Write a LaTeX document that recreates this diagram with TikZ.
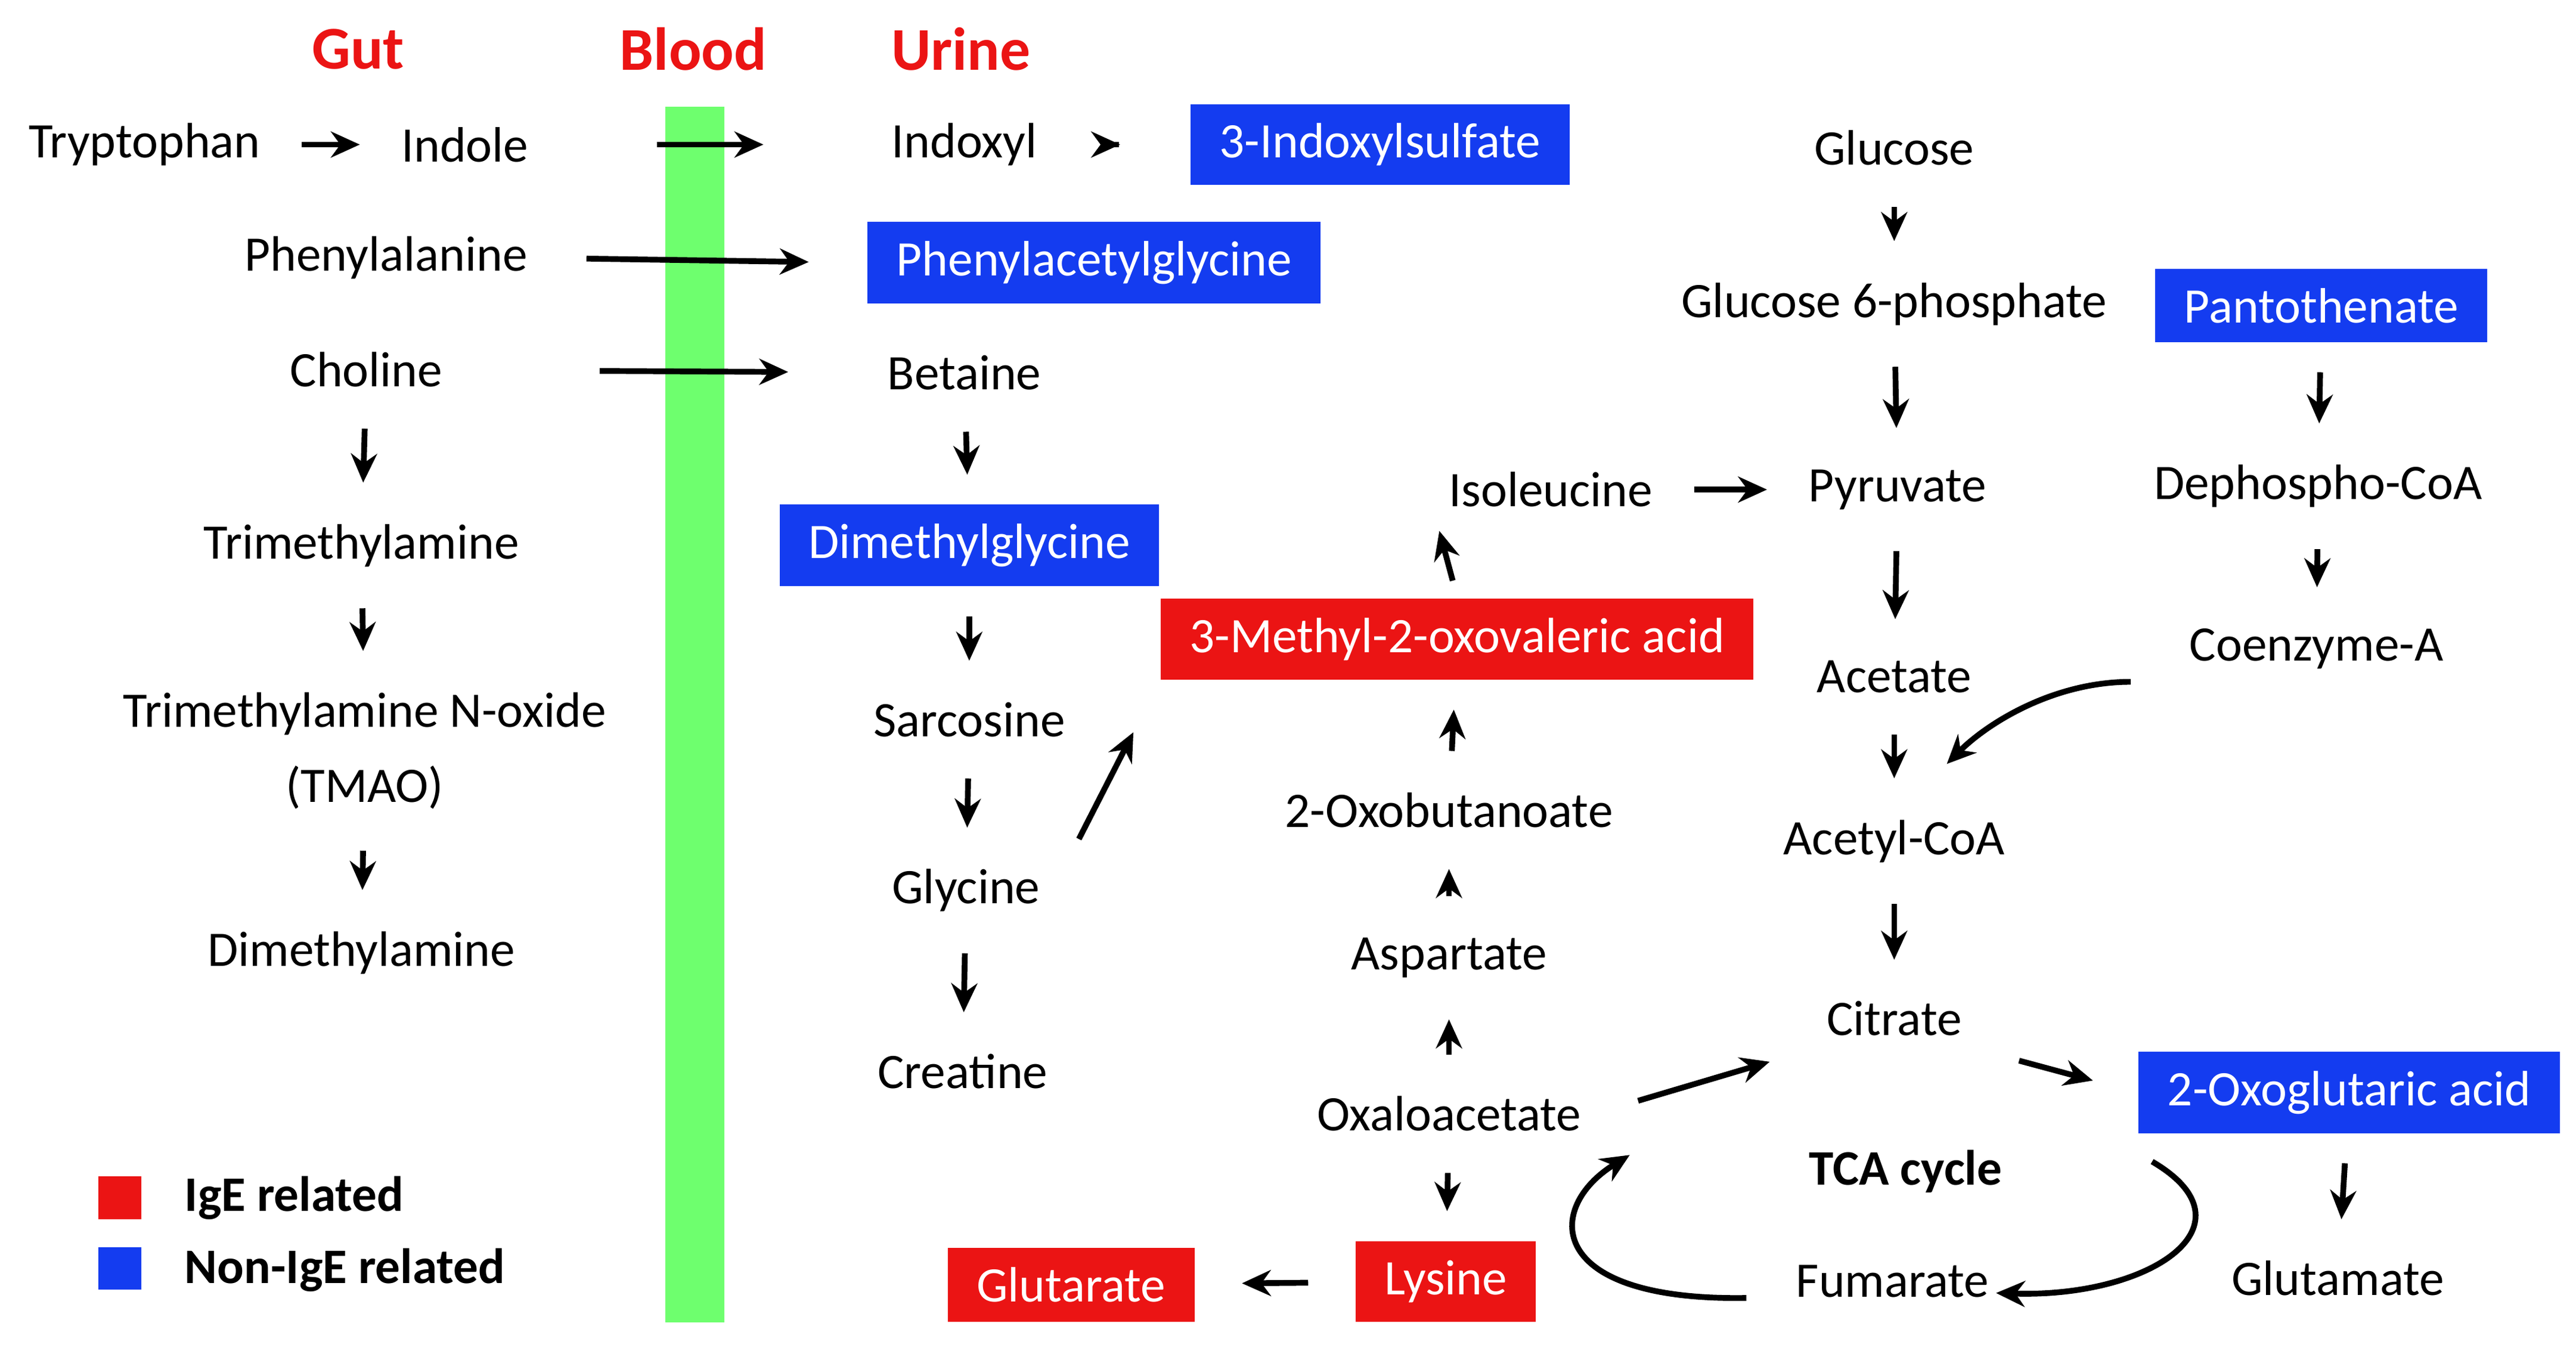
\documentclass[tikz,border=0pt]{standalone}
\usepackage{fontspec}
\setmainfont{Carlito}
\usetikzlibrary{arrows.meta}
\definecolor{bx}{RGB}{20,60,240}
\definecolor{rx}{RGB}{235,20,20}
\definecolor{gb}{RGB}{110,255,110}
\begin{document}
\begin{tikzpicture}[x=0.01cm,y=-0.01cm,
  every node/.style={font=\fontsize{8.6}{10}\selectfont},
  t/.style={inner sep=2pt},
  bb/.style={fill=bx,text=white,minimum height=0.42cm,inner xsep=5pt},
  rb/.style={fill=rx,text=white,minimum height=0.42cm,inner xsep=5pt},
  hd/.style={text=rx,font=\fontsize{10.5}{12}\selectfont\bfseries},
  ar/.style={-{Stealth[length=5pt,width=4.5pt]},line width=1pt,shorten >=5pt,shorten <=5pt}]
\useasboundingbox (0,0) rectangle (1568,822);
\fill[gb] (405,65) rectangle (441,805);
\node[hd] (gut) at (218,30) {Gut};
\node[hd] (blood) at (422,30) {Blood};
\node[hd] (urine) at (585,30) {Urine};
\node[t] (trp) at (88,88) {Tryptophan};
\node[t] (ind) at (283,88) {Indole};
\node[t] (inx) at (587,88) {Indoxyl};
\node[bb] (ixs) at (840,88) {3-Indoxylsulfate};
\node[t] (phe) at (235,157) {Phenylalanine};
\node[bb] (pag) at (666,160) {Phenylacetylglycine};
\node[t] (cho) at (223,225) {Choline};
\node[t] (bet) at (587,227) {Betaine};
\node[t] (tma) at (220,332) {Trimethylamine};
\node[t,align=center] (tmao) at (222,457) {Trimethylamine N-oxide\\[3pt](TMAO)};
\node[t] (dma) at (220,580) {Dimethylamine};
\node[bb] (dmg) at (590,332) {Dimethylglycine};
\node[t] (sar) at (590,438) {Sarcosine};
\node[t] (gly) at (588,542) {Glycine};
\node[t] (cre) at (586,652) {Creatine};
\node[rb] (mov) at (887,389) {3-Methyl-2-oxovaleric acid};
\node[t] (ile) at (944,298) {Isoleucine};
\node[t] (pyr) at (1155,298) {Pyruvate};
\node[t] (glc) at (1153,90) {Glucose};
\node[t] (g6p) at (1153,185) {Glucose 6-phosphate};
\node[bb] (pan) at (1413,186) {Pantothenate};
\node[t] (dpc) at (1411,296) {Dephospho-CoA};
\node[t] (coa) at (1410,395) {Coenzyme-A};
\node[t] (ace) at (1153,412) {Acetate};
\node[t] (acoa) at (1153,512) {Acetyl-CoA};
\node[t] (cit) at (1153,620) {Citrate};
\node[bb] (oga) at (1430,665) {2-Oxoglutaric acid};
\node[t] (glu) at (1423,778) {Glutamate};
\node[t] (fum) at (1152,780) {Fumarate};
\node[font=\fontsize{8.6}{10}\selectfont\bfseries] (tca) at (1160,713) {TCA cycle};
\node[t] (oaa) at (882,678) {Oxaloacetate};
\node[t] (asp) at (882,583) {Aspartate};
\node[t] (obu) at (882,493) {2-Oxobutanoate};
\node[rb] (lys) at (880,780) {Lysine};
\node[rb] (glt) at (652,782) {Glutarate};
\fill[rx] (60,716) rectangle (86,742);
\fill[bx] (60,759) rectangle (86,785);
\node[font=\fontsize{8.6}{10}\selectfont\bfseries,anchor=west] (ige) at (100,729) {IgE related};
\node[font=\fontsize{8.6}{10}\selectfont\bfseries,anchor=west] (nige) at (100,773) {Non-IgE related};
\draw[ar] (trp) -- (ind);
\draw[ar,shorten <=20pt,shorten >=20pt] (ind) -- (inx);
\draw[ar,shorten >=12pt,shorten <=12pt] (inx) -- (ixs);
\draw[ar,shorten <=8pt,shorten >=10pt] (phe.east) -- (pag.west);
\draw[ar,shorten <=25pt,shorten >=15pt] (cho) -- (bet);
\draw[ar] (cho) -- (tma);
\draw[ar] (tma) -- (tmao);
\draw[ar] (tmao) -- (dma);
\draw[ar] (bet) -- (dmg);
\draw[ar] (dmg) -- (sar);
\draw[ar] (sar) -- (gly);
\draw[ar] (gly) -- (cre);
\draw[ar,shorten <=10pt,shorten >=10pt] (gly.east) -- (mov.south west);
\draw[ar,shorten <=3pt,shorten >=2pt] (mov.north) -- (ile.south west);
\draw[ar] (ile) -- (pyr);
\draw[ar] (obu) -- (mov);
\draw[ar] (asp) -- (obu);
\draw[ar] (oaa) -- (asp);
\draw[ar] (oaa) -- (lys);
\draw[ar,shorten <=8pt,shorten >=8pt] (lys) -- (glt);
\draw[ar] (glc) -- (g6p);
\draw[ar] (g6p) -- (pyr);
\draw[ar] (pyr) -- (ace);
\draw[ar] (ace) -- (acoa);
\draw[ar] (acoa) -- (cit);
\draw[ar] (pan) -- (dpc);
\draw[ar] (dpc) -- (coa);
\draw[ar] (oga) -- (glu);
\draw[ar,shorten <=8pt,shorten >=8pt] (oaa.east) -- (cit.south west);
\draw[ar,shorten <=8pt,shorten >=8pt] (cit.south east) -- (oga.west);
\coordinate (c1) at (1297,415);
\coordinate (c2) at (1185,465);
\draw[ar,shorten <=0pt,shorten >=0pt] (c1) .. controls (1250,415) and (1210,440) .. (c2);
\coordinate (t1) at (1310,707);
\coordinate (t2) at (1215,787);
\draw[ar,shorten <=0pt,shorten >=0pt] (t1) .. controls (1375,745) and (1310,790) .. (t2);
\coordinate (t3) at (1063,790);
\coordinate (t4) at (992,703);
\draw[ar,shorten <=0pt,shorten >=0pt] (t3) .. controls (940,792) and (940,735) .. (t4);
\end{tikzpicture}
\end{document}
